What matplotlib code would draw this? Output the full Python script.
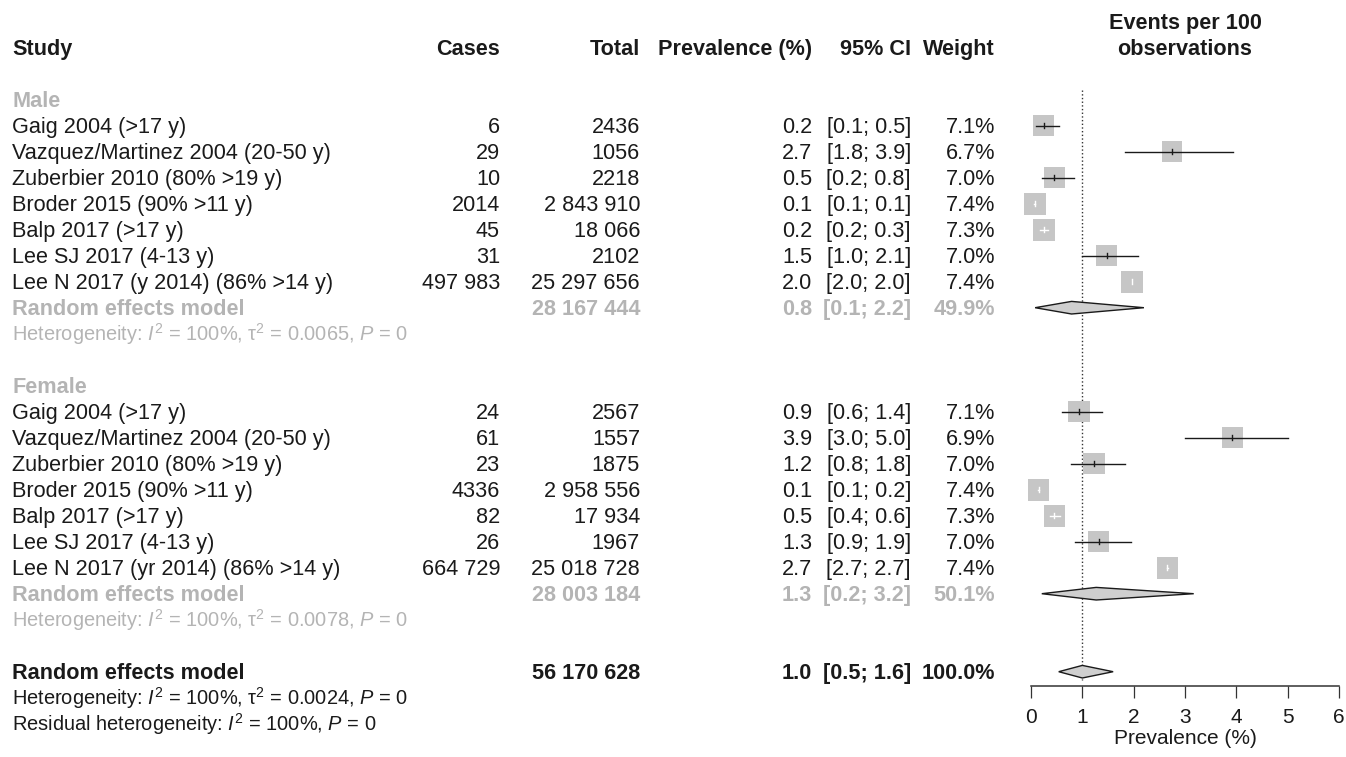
import matplotlib
matplotlib.use("Agg")
import matplotlib.pyplot as plt
from matplotlib.patches import Rectangle, Polygon
import numpy as np

# ---------------- data ----------------
male_studies = ["Gaig 2004 (>17 y)", "Vazquez/Martinez 2004 (20-50 y)", "Zuberbier 2010 (80% >19 y)",
                "Broder 2015 (90% >11 y)", "Balp 2017 (>17 y)", "Lee SJ 2017 (4-13 y)",
                "Lee N 2017 (y 2014) (86% >14 y)"]
male_cases = [6, 29, 10, 2014, 45, 31, 497983]
male_total = [2436, 1056, 2218, 2843910, 18066, 2102, 25297656]
male_lo = [0.09, 1.84, 0.22, 0.068, 0.18, 1.00, 1.963]
male_hi = [0.54, 3.93, 0.83, 0.074, 0.33, 2.09, 1.974]
male_weight = [7.1, 6.7, 7.0, 7.4, 7.3, 7.0, 7.4]
male_re = [0.79, 0.08, 2.20]          # estimate, lower, upper
male_re_weight = 49.9
male_het = ["100%", "0.0065", "0"]

female_studies = ["Gaig 2004 (>17 y)", "Vazquez/Martinez 2004 (20-50 y)", "Zuberbier 2010 (80% >19 y)",
                  "Broder 2015 (90% >11 y)", "Balp 2017 (>17 y)", "Lee SJ 2017 (4-13 y)",
                  "Lee N 2017 (yr 2014) (86% >14 y)"]
female_cases = [24, 61, 23, 4336, 82, 26, 664729]
female_total = [2567, 1557, 1875, 2958556, 17934, 1967, 25018728]
female_lo = [0.60, 3.00, 0.78, 0.142, 0.364, 0.865, 2.651]
female_hi = [1.39, 5.00, 1.84, 0.151, 0.567, 1.94, 2.663]
female_weight = [7.1, 6.9, 7.0, 7.4, 7.3, 7.0, 7.4]
female_re = [1.27, 0.21, 3.17]
female_re_weight = 50.1
female_het = ["100%", "0.0078", "0"]

overall_re = [1.00, 0.54, 1.60]
overall_weight = 100.0
overall_het = ["100%", "0.0024", "0"]
resid_het = ["100%", "0"]

x_ticks = [0, 1, 2, 3, 4, 5, 6]

# ---------------- layout ----------------
W, H = 1346, 757
ROW0_PX, ROW_PX = 125.7, 26.0


def row_of(px):
    return (px - ROW0_PX) / ROW_PX


plt.rcParams['font.family'] = ['Liberation Sans', 'DejaVu Sans']
plt.rcParams['mathtext.fontset'] = 'custom'
plt.rcParams['mathtext.rm'] = 'Liberation Sans'
plt.rcParams['mathtext.it'] = 'Liberation Sans:italic'
plt.rcParams['mathtext.bf'] = 'Liberation Sans:bold'

BLACK = '#1a1a1a'
GREY = '#b4b4b4'
SQ = '#c6c6c6'
DIA = '#cfcfcf'
FS = 15.6
FS_HET = 14.4

fig = plt.figure(figsize=(W / 100, H / 100), dpi=100)
ax_t = fig.add_axes([0, 0, 1, 1])
ax_t.set_xlim(0, W)
ax_t.set_ylim(row_of(H), row_of(0))
ax_t.axis('off')

AX_L, AX_R, AX_B = 1031, 1339, 686
ax_f = fig.add_axes([AX_L / W, (H - AX_B) / H, (AX_R - AX_L) / W, AX_B / H])
ax_f.set_xlim(x_ticks[0], x_ticks[-1])
ax_f.set_ylim(row_of(AX_B), row_of(0))
ax_f.patch.set_alpha(0)
for s in ['top', 'left', 'right']:
    ax_f.spines[s].set_visible(False)
ax_f.spines['bottom'].set_linewidth(1.1)
ax_f.spines['bottom'].set_color('#333333')
ax_f.set_yticks([])
ax_f.set_xticks(x_ticks)
ax_f.set_xticklabels([str(t) for t in x_ticks])
ax_f.tick_params(axis='x', length=8.6, width=0.9, color='#333333', pad=7,
                 labelsize=15, labelcolor=BLACK)
ax_f.set_xlabel("Prevalence (%)", fontsize=15, color=BLACK, labelpad=2)

px_x = (AX_R - AX_L) / (x_ticks[-1] - x_ticks[0])   # pixels per x unit

# column right edges (px)
X_STUDY, X_CASES, X_TOTAL, X_PREV, X_CI, X_W = 12, 500, 640, 812, 911, 995
BASE = 0.29


def fmt_n(n):
    return f"{n:,}".replace(",", " ") if n >= 10000 else str(n)


def put(x, row, s, ha='left', color=BLACK, bold=False, size=FS):
    ax_t.text(x, row + BASE, s, ha=ha, va='baseline', color=color, fontsize=size,
              fontweight='bold' if bold else 'normal')


# header
put(X_STUDY, -3, "Study", bold=True)
put(X_CASES, -3, "Cases", ha='right', bold=True)
put(X_TOTAL, -3, "Total", ha='right', bold=True)
put(X_PREV, -3, "Prevalence (%)", ha='right', bold=True)
put(X_CI, -3, "95% CI", ha='right', bold=True)
put(X_W, -3, "Weight", ha='right', bold=True)
xc = (AX_L + AX_R) / 2
put(xc, -4, "Events per 100", ha='center', bold=True)
put(xc, -3, "observations", ha='center', bold=True)


def het_text(vals):
    return ("Heterogeneity: $I^{2}$ = " + vals[0] + ", $\\mathrm{\\tau}^{2}$ = " + vals[1]
            + ", $P$ = " + vals[2])


def diamond(row, est, lo, hi):
    hh = 6.3 / ROW_PX
    ax_f.add_patch(Polygon([[lo, row], [est, row - hh], [hi, row], [est, row + hh]],
                           closed=True, facecolor=DIA, edgecolor=BLACK, lw=1.0,
                           clip_on=False, zorder=3))


def group(first_row, label, studies, cases, total, lo, hi, weight, re, re_w, het):
    put(X_STUDY, first_row - 1, label, color=GREY, bold=True)
    for i in range(len(studies)):
        r = first_row + i
        est = cases[i] / total[i] * 100
        put(X_STUDY, r, studies[i])
        put(X_CASES, r, fmt_n(cases[i]), ha='right')
        put(X_TOTAL, r, fmt_n(total[i]), ha='right')
        put(X_PREV, r, f"{est:.1f}", ha='right')
        put(X_CI, r, f"[{lo[i]:.1f}; {hi[i]:.1f}]", ha='right')
        put(X_W, r, f"{weight[i]:.1f}%", ha='right')
        side = 8.0 * np.sqrt(weight[i])
        hw, hh = side / 2 / px_x, side / 2 / ROW_PX
        ax_f.add_patch(Rectangle((est - hw, r - hh), 2 * hw, 2 * hh, facecolor=SQ,
                                 edgecolor='none', clip_on=False, zorder=2))
        inside = lo[i] >= est - hw and hi[i] <= est + hw
        c = 'white' if inside else BLACK
        ax_f.plot([lo[i], hi[i]], [r, r], color=c, lw=1.0, clip_on=False, zorder=4)
        ax_f.plot([est, est], [r - 0.1, r + 0.1], color=c, lw=1.0, clip_on=False, zorder=4)
    rr = first_row + len(studies)
    put(X_STUDY, rr, "Random effects model", color=GREY, bold=True)
    put(X_TOTAL, rr, fmt_n(sum(total)), ha='right', color=GREY, bold=True)
    put(X_PREV, rr, f"{re[0]:.1f}", ha='right', color=GREY, bold=True)
    put(X_CI, rr, f"[{re[1]:.1f}; {re[2]:.1f}]", ha='right', color=GREY, bold=True)
    put(X_W, rr, f"{re_w:.1f}%", ha='right', color=GREY, bold=True)
    diamond(rr, *re)
    put(X_STUDY, rr + 1, het_text(het), color=GREY, size=FS_HET)


group(0, "Male", male_studies, male_cases, male_total, male_lo, male_hi, male_weight,
      male_re, male_re_weight, male_het)
group(11, "Female", female_studies, female_cases, female_total, female_lo, female_hi,
      female_weight, female_re, female_re_weight, female_het)

ro = 21
put(X_STUDY, ro, "Random effects model", bold=True)
put(X_TOTAL, ro, fmt_n(sum(male_total) + sum(female_total)), ha='right', bold=True)
put(X_PREV, ro, f"{overall_re[0]:.1f}", ha='right', bold=True)
put(X_CI, ro, f"[{overall_re[1]:.1f}; {overall_re[2]:.1f}]", ha='right', bold=True)
put(X_W, ro, f"{overall_weight:.1f}%", ha='right', bold=True)
diamond(ro, *overall_re)
put(X_STUDY, ro + 1, het_text(overall_het), size=FS_HET)
put(X_STUDY, ro + 2, "Residual heterogeneity: $I^{2}$ = " + resid_het[0] + ", $P$ = " + resid_het[1],
    size=FS_HET)

# reference line at the overall estimate
ax_f.vlines(overall_re[0], row_of(90), row_of(680), colors='#333333', linestyles=':',
            lw=1.0, clip_on=False, zorder=1)

fig.savefig("out.png", dpi=100)
